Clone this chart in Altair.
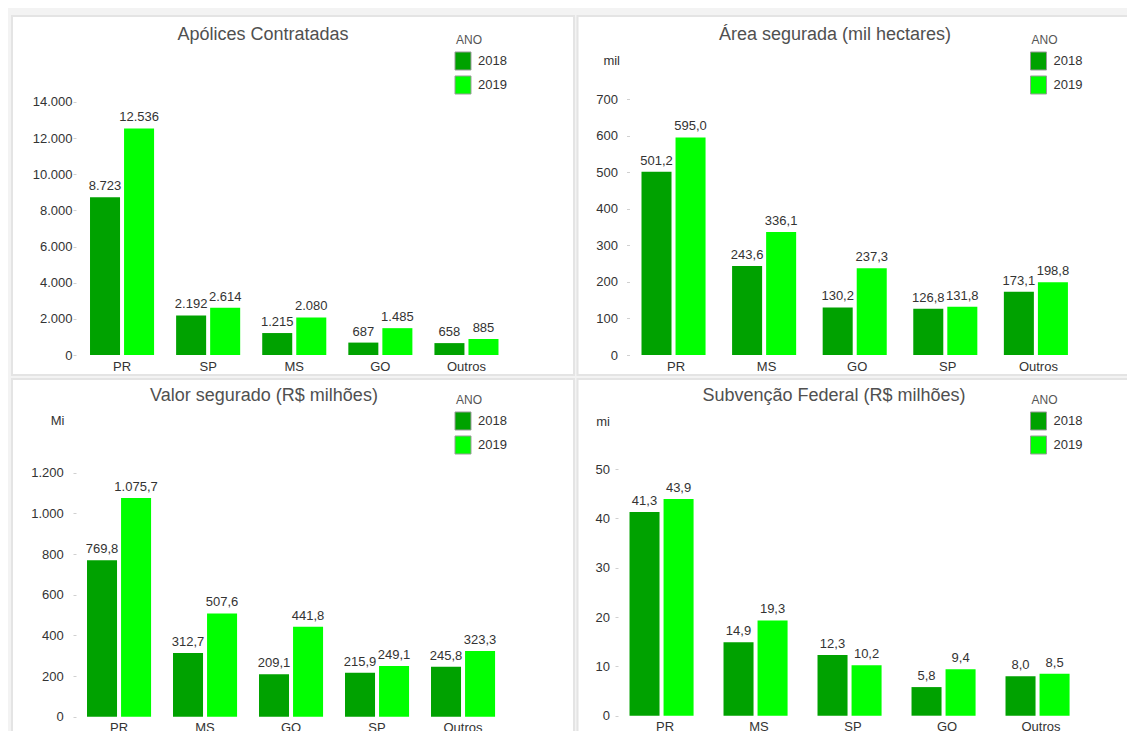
import altair as alt
import pandas as pd

FONT = "Liberation Sans"
anos = ["2018", "2019"]
cores = ["#00A200", "#00FF00"]

# Apólices Contratadas
ap_cats = ["PR", "SP", "MS", "GO", "Outros"]
ap_2018 = [8723, 2192, 1215, 687, 658]
ap_2019 = [12536, 2614, 2080, 1485, 885]
ap_ticks = [0, 2000, 4000, 6000, 8000, 10000, 12000, 14000]

# Área segurada (mil hectares)
area_cats = ["PR", "MS", "GO", "SP", "Outros"]
area_2018 = [501.2, 243.6, 130.2, 126.8, 173.1]
area_2019 = [595.0, 336.1, 237.3, 131.8, 198.8]
area_ticks = [0, 100, 200, 300, 400, 500, 600, 700]

# Valor segurado (R$ milhões)
valor_cats = ["PR", "MS", "GO", "SP", "Outros"]
valor_2018 = [769.8, 312.7, 209.1, 215.9, 245.8]
valor_2019 = [1075.7, 507.6, 441.8, 249.1, 323.3]
valor_ticks = [0, 200, 400, 600, 800, 1000, 1200]

# Subvenção Federal (R$ milhões)
sub_cats = ["PR", "MS", "SP", "GO", "Outros"]
sub_2018 = [41.3, 14.9, 12.3, 5.8, 8.0]
sub_2019 = [43.9, 19.3, 10.2, 9.4, 8.5]
sub_ticks = [0, 10, 20, 30, 40, 50]


def panel(title, cats, v18, v19, ticks, ymax, fmt, unit, g):
    df = pd.DataFrame({
        "UF": cats + cats,
        "Ano": [anos[0]] * len(cats) + [anos[1]] * len(cats),
        "Valor": v18 + v19,
    })
    x = alt.X("UF:N", sort=cats, title=None,
              scale=alt.Scale(paddingInner=g["pi"], paddingOuter=g["pout"], align=g["al"]),
              axis=alt.Axis(labelAngle=0, ticks=False, domain=False, labelPadding=5,
                            labelFontSize=13, labelColor="#333333", labelFont=FONT, zindex=1))
    xo = alt.XOffset("Ano:N", sort=anos, scale=alt.Scale(paddingInner=g["po"], paddingOuter=0))
    axis_kw = dict(values=ticks, format=",d", grid=False, domain=False, tickSize=3,
                   tickColor="#d0d0d0", labelPadding=g["lp"], labelFontSize=13,
                   labelColor="#333333", labelFont=FONT, zindex=1, offset=g["off"])
    if unit:
        axis_kw.update(titleAngle=0, titleAlign="right", titleBaseline="middle",
                       titleX=g["ux"], titleY=g["uy"], titleFontSize=13,
                       titleFontWeight="normal", titleColor="#333333", titleFont=FONT)
        y = alt.Y("Valor:Q", title=unit,
                  scale=alt.Scale(domain=[0, ymax], nice=False), axis=alt.Axis(**axis_kw))
    else:
        y = alt.Y("Valor:Q", title=None,
                  scale=alt.Scale(domain=[0, ymax], nice=False), axis=alt.Axis(**axis_kw))

    base = alt.Chart(df)
    bars = base.mark_bar().encode(
        x=x, xOffset=xo, y=y,
        color=alt.Color("Ano:N", scale=alt.Scale(domain=anos, range=cores),
                        legend=alt.Legend(title="ANO", orient="none", legendX=g["lx"], legendY=g["ly"],
                                          symbolType="M-1.23,-1.385H1.23V1.385H-1.23Z", symbolSize=169,
                                          rowPadding=0,
                                          labelFontSize=13, labelFont=FONT, labelColor="#333333",
                                          titleFontSize=12, titleFontWeight="normal",
                                          titleColor="#555555", titleFont=FONT, titlePadding=7,
                                          padding=0, labelOffset=8, symbolStrokeColor="#9a9a9a",
                                          symbolStrokeWidth=1, zindex=1)),
    )
    labels = base.mark_text(baseline="bottom", dy=-4, fontSize=13, color="#333333", font=FONT).encode(
        x=x, xOffset=xo, y=y, text=alt.Text("Valor:Q", format=fmt)
    )
    frame = alt.Chart(pd.DataFrame({"k": [0]})).mark_rect(
        fill="white", stroke="#e4e4e4", strokeWidth=2
    ).encode(x=alt.value(g["fx"][0]), x2=alt.value(g["fx"][1]),
             y=alt.value(g["fy"][0]), y2=alt.value(g["fy"][1]))
    ttl = alt.Chart(pd.DataFrame({"t": [title]})).mark_text(
        fontSize=18, color="#505050", font=FONT, align="center", baseline="middle"
    ).encode(x=alt.value(g["tx"]), y=alt.value(g["ty"]), text="t:N")
    return alt.layer(frame, bars, labels, ttl).properties(width=g["W"], height=g["H"])


p1 = panel("Apólices Contratadas", ap_cats, ap_2018, ap_2019, ap_ticks, 14166, ",d", None,
           dict(W=433.5, H=256, pi=0.256, pout=0.1453, al=0.56, po=0.118, lp=1, off=0,
                lx=380, ly=-64, fx=(-64, 498), fy=(-83, 276), tx=187, ty=-64))
p2 = panel("Área segurada (mil hectares)", area_cats, area_2018, area_2019, area_ticks, 700, ",.1f", "mil",
           dict(W=465.9, H=256, pi=0.238, pout=0.1904, al=0.681, po=0.11, lp=9, off=-11.5,
                ux=-10, uy=-39, lx=413.5, ly=-64,
                fx=(-40.5, 521.5), fy=(-83, 276), tx=217, ty=-64))
p3 = panel("Valor segurado (R$ milhões)", valor_cats, valor_2018, valor_2019, valor_ticks, 1218.2, ",.1f", "Mi",
           dict(W=430, H=247.7, pi=0.256, pout=0.128, al=0.5, po=0.118, lp=9.7, off=0,
                ux=-12, uy=-48.3, lx=380, ly=-74,
                fx=(-64, 498), fy=(-90, 271), tx=188, ty=-73))
p4 = panel("Subvenção Federal (R$ milhões)", sub_cats, sub_2018, sub_2019, sub_ticks, 50, ",.1f", "mi",
           dict(W=470, H=246.7, pi=0.245, pout=0.1225, al=0.5, po=0.12, lp=5.5, off=0,
                ux=-8.5, uy=-48, lx=413.5, ly=-74,
                fx=(-40.5, 521.5), fy=(-90, 271), tx=216, ty=-73))

chart = alt.concat(p1, p2, p3, p4, columns=2, spacing=0).resolve_scale(
    color="independent"
).resolve_legend(color="independent").properties(
    autosize=alt.AutoSizeParams(type="none"),
    padding={"left": 68, "top": 91, "right": 1051, "bottom": 632},
    background="#f3f3f3",
).configure_view(strokeWidth=0).configure(
    locale={"number": {"decimal": ",", "thousands": ".", "grouping": [3], "currency": ["R$", ""]}}
)

chart.save("out.html", embed_options={"renderer": "svg", "actions": False})
